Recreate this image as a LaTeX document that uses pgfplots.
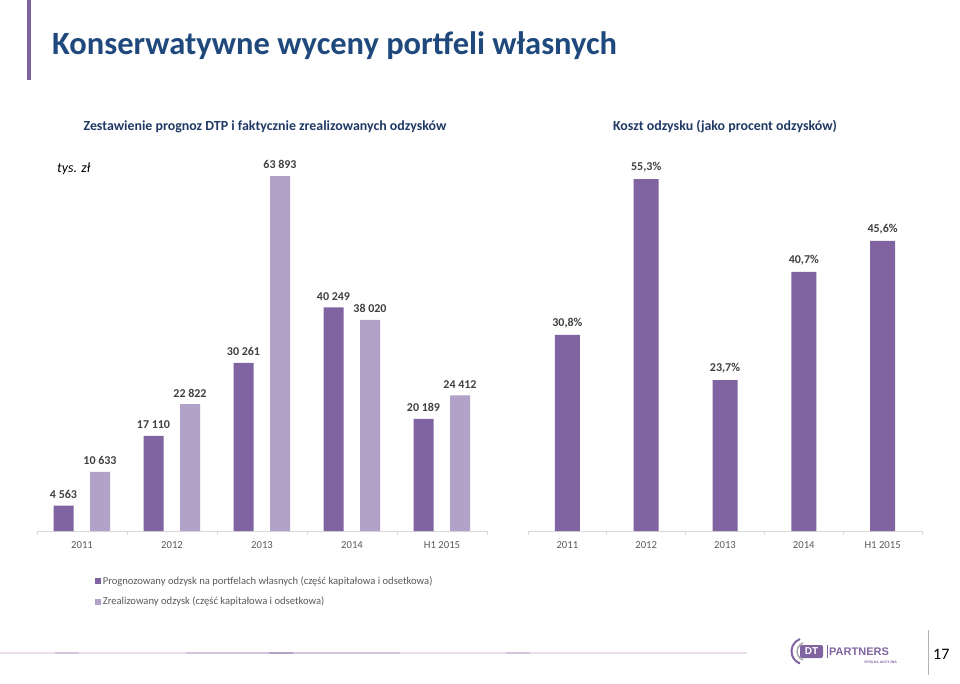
\documentclass[border=0pt]{standalone}
\usepackage{pgfplots}
\pgfplotsset{compat=1.18}
\usepackage{fontspec}
\setmainfont{Carlito}
\newfontfamily\logofont{Liberation Sans}
\definecolor{darkp}{RGB}{128,100,162}
\definecolor{lightp}{RGB}{179,162,199}
\definecolor{titleblue}{RGB}{31,73,125}
\definecolor{subblue}{RGB}{31,56,100}
\definecolor{lblgray}{RGB}{64,64,64}
\definecolor{tickgray}{RGB}{89,89,89}
\definecolor{axgray}{RGB}{217,217,217}
\definecolor{footpink}{RGB}{236,222,236}
\definecolor{footmid}{RGB}{214,196,218}
\pgfplotsset{mybar/.style={
  scale only axis, anchor=south west, ybar,
  xmin=-0.5, xmax=4.5, ymin=0,
  axis y line=none, axis x line*=bottom,
  axis line style={draw=axgray, line width=0.8pt},
  xtick={0,...,4}, xticklabels={2011,2012,2013,2014,H1 2015},
  major tick length=0pt,
  minor xtick={-0.5,0.5,...,4.5}, minor tick length=4pt, tick align=outside,
  minor tick style={draw=axgray, line width=0.8pt},
  xticklabel style={font=\fontsize{10.7}{12}\selectfont, text=tickgray, yshift=-7.5pt},
  /pgf/number format/assume math mode=true,
  nodes near coords, point meta=explicit symbolic,
  every node near coord/.append style={font=\fontsize{12}{14}\selectfont\bfseries, text=lblgray, yshift=3.5pt},
  clip=false}}
\begin{document}
\begin{tikzpicture}[x=1pt,y=1pt]
\path[use as bounding box] (0pt,0pt) rectangle (960pt,683pt);
% decorative bar and title
\fill[darkp] (27pt,603pt) rectangle (31pt,683pt);
\node[anchor=base west, font=\fontsize{32.5}{38}\selectfont\bfseries, text=titleblue, inner sep=0] at (52pt,628pt) {Konserwatywne wyceny portfeli własnych};
% subtitles
\node[anchor=base, font=\fontsize{13.9}{16}\selectfont\bfseries, text=subblue, inner sep=0] at (265pt,552pt) {Zestawienie prognoz DTP i faktycznie zrealizowanych odzysków};
\node[anchor=base, font=\fontsize{13.9}{16}\selectfont\bfseries, text=subblue, inner sep=0] at (725pt,552pt) {Koszt odzysku (jako procent odzysków)};
\node[anchor=base west, font=\fontsize{14}{16}\selectfont\itshape, text=black, inner sep=0] at (57pt,510pt) {tys. zł};

\begin{axis}[mybar, at={(37pt,152pt)}, width=450pt, height=388.9pt, ymax=70000,
  legend style={at={(axis description cs:0.128,-0.112)}, anchor=north west, draw=none, fill=none,
    font=\fontsize{10.6}{12}\selectfont, text=tickgray, row sep=7pt, inner sep=0pt},
  legend cell align=left,
  legend image code/.code={\fill[#1] (0pt,-3pt) rectangle (6pt,3pt);}]
\addplot[fill=darkp, draw=none, bar width=20pt, bar shift=-18.5pt] coordinates {
  (0,4563) [4 563] (1,17110) [17 110] (2,30261) [30 261] (3,40249) [40 249] (4,20189) [20 189]};
\addlegendentry{Prognozowany odzysk na portfelach własnych (część kapitałowa i odsetkowa)}
\addplot[fill=lightp, draw=none, bar width=20pt, bar shift=18pt] coordinates {
  (0,10633) [10 633] (1,22822) [22 822] (2,63893) [63 893] (3,38020) [38 020] (4,24412) [24 412]};
\addlegendentry{Zrealizowany odzysk (część kapitałowa i odsetkowa)}
\end{axis}

\begin{axis}[mybar, at={(528pt,152pt)}, width=394pt, height=381.9pt, ymax=60]
\addplot[fill=darkp, draw=none, bar width=25pt, bar shift=0pt] coordinates {
  (0,30.8) [30,8\%] (1,55.3) [55,3\%] (2,23.7) [23,7\%] (3,40.7) [40,7\%] (4,45.6) [45,6\%]};
\end{axis}

% footer line
\draw[footpink, line width=1.5pt] (0pt,30pt) -- (747pt,30pt);
\draw[footmid, line width=1.5pt] (55pt,30pt) -- (79pt,30pt);
\draw[footmid, line width=1.5pt] (186pt,30pt) -- (269pt,30pt);
\draw[lightp, line width=1.5pt] (269pt,30pt) -- (293pt,30pt);
\draw[footmid, line width=1.5pt] (293pt,30pt) -- (400pt,30pt);
\draw[footmid, line width=1.5pt] (506pt,30pt) -- (530pt,30pt);
% logo
\draw[darkp, line width=2pt] (800pt,44pt) arc (110:250:13pt);
\draw[gray!70, line width=1.5pt] (803pt,40pt) arc (110:250:9pt);
\fill[darkp, rounded corners=2pt] (800pt,25pt) rectangle (823pt,38pt);
\node[font=\logofont\bfseries\fontsize{10}{10}\selectfont, text=white, inner sep=0] at (811.5pt,31.5pt) {DT};
\draw[darkp, line width=0.8pt] (827pt,25pt) -- (827pt,38pt);
\node[anchor=west, font=\logofont\bfseries\fontsize{11}{11}\selectfont, text=darkp, inner sep=0] at (829pt,31.5pt) {PARTNERS};
\node[anchor=east, font=\logofont\bfseries\fontsize{3.5}{4}\selectfont, text=darkp, inner sep=0] at (897pt,21pt) {SPÓŁKA AKCYJNA};
% page number
\draw[gray!60, line width=0.8pt] (928pt,8pt) -- (928pt,53pt);
\node[anchor=west, font=\fontsize{16}{18}\selectfont, text=black, inner sep=0] at (933pt,29pt) {17};
\end{tikzpicture}
\end{document}
